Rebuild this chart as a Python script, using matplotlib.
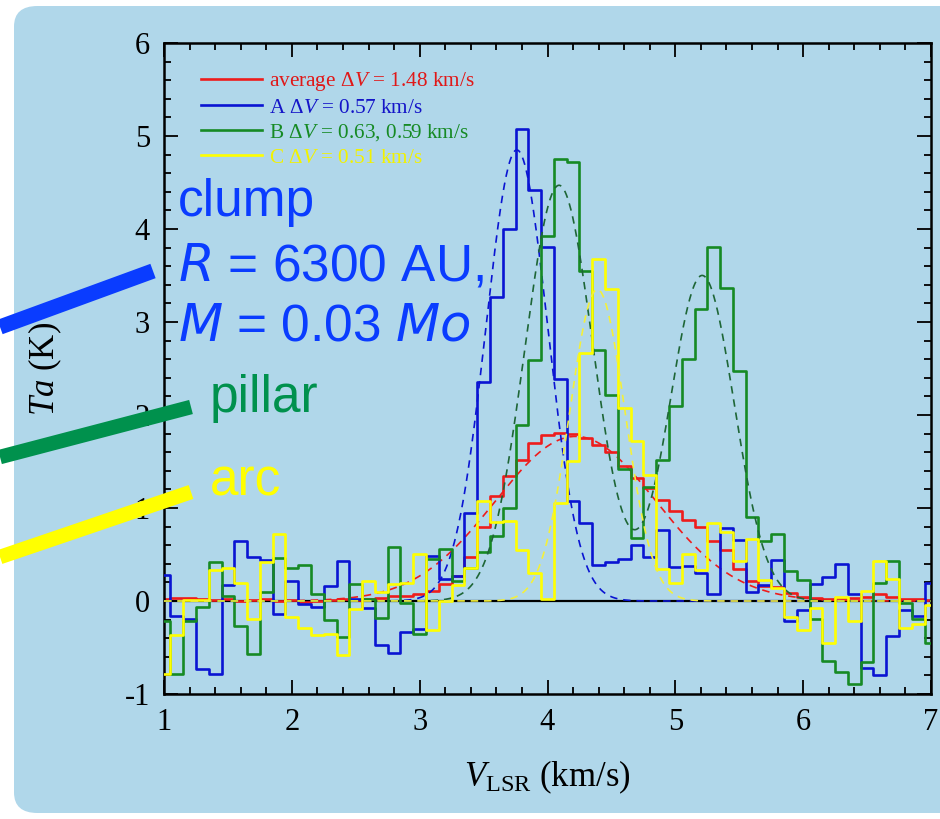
import numpy as np
import matplotlib
matplotlib.use("Agg")
import matplotlib.pyplot as plt
from matplotlib.lines import Line2D
from matplotlib.patches import FancyBboxPatch

plt.rcParams['font.family'] = ['Liberation Serif', 'DejaVu Serif']
plt.rcParams['mathtext.fontset'] = 'custom'
plt.rcParams['mathtext.rm'] = 'Liberation Serif'
plt.rcParams['mathtext.it'] = 'Liberation Serif:italic'
plt.rcParams['mathtext.bf'] = 'Liberation Serif:bold'

# ---------------- data ----------------
# channel centres (km/s), 0.1 km/s channels from 1.0 to 7.0
v_chan = np.linspace(1.0, 7.0, 61)

t_average = [0.02, 0.03, 0.03, 0.02, 0.01, 0.02, 0.00, 0.01, 0.02, 0.00,
             0.01, -0.01, 0.00, 0.01, 0.02, 0.01, 0.02, 0.03, 0.05, 0.05,
             0.08, 0.11, 0.18, 0.27, 0.47, 0.80, 1.13, 1.34, 1.52, 1.70,
             1.78, 1.81, 1.80, 1.75, 1.68, 1.60, 1.45, 1.32, 1.21, 1.09,
             0.97, 0.87, 0.80, 0.65, 0.55, 0.34, 0.21, 0.16, 0.15, 0.09,
             0.04, 0.03, 0.02, 0.03, 0.03, 0.04, 0.07, 0.04, 0.02, 0.02, 0.01]

t_A = [0.28, -0.16, -0.19, -0.73, -0.78, 0.17, 0.645, 0.47, 0.44, -0.14,
       0.22, -0.03, -0.06, 0.16, 0.43, 0.02, -0.08, -0.47, -0.56, -0.33,
       -0.30, 0.48, 0.24, 0.27, 0.95, 2.35, 3.27, 4.00, 5.07, 4.42,
       3.81, 2.39, 1.07, 0.84, 0.39, 0.42, 0.45, 0.60, 0.47, 0.76,
       0.37, 0.38, 0.30, 0.08, 0.78, 0.66, 0.10, 0.17, 0.44, -0.22,
       -0.10, 0.18, 0.26, 0.40, 0.07, -0.72, -0.80, -0.38, -0.10, -0.16, 0.19]

t_B = [-0.22, -0.78, -0.21, -0.06, 0.42, 0.05, -0.27, -0.57, 0.10, 0.46,
       0.35, 0.39, 0.07, -0.20, -0.39, 0.18, 0.02, -0.18, 0.58, -0.02,
       -0.35, 0.45, 0.56, 0.21, 0.35, 0.53, 0.70, 1.00, 1.89, 2.59,
       3.93, 4.75, 4.72, 3.55, 2.70, 2.21, 1.42, 0.68, 1.23, 1.52,
       2.10, 2.60, 3.14, 3.81, 3.37, 2.47, 0.90, 0.65, 0.72, 0.32,
       0.23, -0.19, -0.64, -0.76, -0.89, -0.66, 0.19, 0.43, -0.02, -0.19, -0.45]

t_C = [-0.79, -0.365, 0.01, 0.01, 0.33, 0.36, 0.19, -0.19, 0.42, 0.72,
       -0.17, -0.29, -0.365, -0.36, -0.58, -0.09, 0.21, 0.10, 0.18, 0.19,
       0.51, -0.31, 0.00, 0.17, 0.36, 1.07, 0.85, 0.86, 0.55, 0.30,
       0.02, 1.05, 1.51, 2.67, 3.68, 3.35, 2.07, 1.72, 1.35, 0.34,
       0.19, 0.51, 0.33, 0.84, 0.74, 0.43, 0.67, 0.23, 0.14, -0.17,
       -0.31, -0.07, -0.45, 0.04, -0.22, 0.11, 0.43, 0.24, -0.29, -0.25, -0.04]

# Gaussian fit parameters: amplitude (K), centre (km/s), FWHM (km/s)
fit_average = [(1.77, 4.22, 1.48)]
fit_A = [(4.85, 3.76, 0.57)]
fit_B = [(4.47, 4.09, 0.63), (3.50, 5.21, 0.59)]
fit_C = [(3.35, 4.39, 0.51)]

labels = [r'average $\Delta V$ = 1.48 km/s',
          r'A $\Delta V$ = 0.57 km/s',
          r'B $\Delta V$ = 0.63, 0.59 km/s',
          r'C $\Delta V$ = 0.51 km/s']

x_ticks = [1, 2, 3, 4, 5, 6, 7]
y_ticks = [-1, 0, 1, 2, 3, 4, 5, 6]

# ---------------- style ----------------
BG = '#b0d7ea'
hist_cols = ['#ee1c1c', '#0a14d2', '#168a24', '#ffff00']
fit_cols = ['#ee1c1c', '#0a14d2', '#1e6636', '#f4f03a']
text_cols = ['#e01818', '#1414c8', '#168a24', '#f2f200']

W, H = 940, 819
fig = plt.figure(figsize=(W / 100, H / 100), dpi=100)
fig.patch.set_facecolor('white')

# rounded light-blue panel
panel = FancyBboxPatch((14 / W, 6 / H), 980 / W, (813 - 6) / H,
                       boxstyle='round,pad=0,rounding_size=0.025',
                       transform=fig.transFigure, facecolor=BG,
                       edgecolor='none', zorder=-5)
fig.patches.append(panel)

ax = fig.add_axes([164 / W, (H - 694) / H, (931 - 164) / W, (694 - 43) / H])
ax.set_facecolor('none')

vfine = np.linspace(1.0, 7.0, 1200)


def gauss_sum(params, x):
    y = np.zeros_like(x)
    for a, c, fw in params:
        s = fw / 2.3548
        y += a * np.exp(-0.5 * ((x - c) / s) ** 2)
    return y


ax.axhline(0, color='black', lw=1.6, zorder=1)

series = [t_average, t_A, t_B, t_C]
fits = [fit_average, fit_A, fit_B, fit_C]
handles = []
for i, (ser, fp) in enumerate(zip(series, fits)):
    h, = ax.step(v_chan, ser, where='mid', color=hist_cols[i], lw=1.9,
                 zorder=2 + i)
    ax.plot(vfine, gauss_sum(fp, vfine), color=fit_cols[i], lw=1.2,
            ls=(0, (4.5, 3.5)), zorder=2 + i)
    handles.append(h)

ax.set_xlim(1, 7)
ax.set_ylim(-1, 6)
ax.set_xticks(x_ticks)
ax.set_yticks(y_ticks)
ax.set_xticklabels([str(t) for t in x_ticks])
ax.set_yticklabels([str(t) for t in y_ticks])
ax.set_xticks(np.arange(1, 7.01, 0.2), minor=True)
ax.set_yticks(np.arange(-1, 6.01, 0.2), minor=True)
ax.tick_params(which='both', direction='in', top=True, right=True,
               labelsize=22, width=1.3, color='black')
ax.tick_params(which='major', length=10, pad=10)
ax.tick_params(which='minor', length=5)
for sp in ax.spines.values():
    sp.set_linewidth(1.8)

ax.set_xlabel(r'$V_{\rm LSR}$ (km/s)', fontsize=25, labelpad=16)
ax.set_ylabel(r'$Ta$ (K)', fontsize=25, labelpad=44)

leg = ax.legend(handles, labels, loc='upper left',
                bbox_to_anchor=(201 / W, 1 - 70 / H),
                bbox_transform=fig.transFigure, frameon=False,
                fontsize=15.3, handlelength=2.85, handletextpad=0.33,
                labelspacing=0.22, borderpad=0, borderaxespad=0)
for txt, c in zip(leg.get_texts(), text_cols):
    txt.set_color(c)

# annotation texts
sans = ['Liberation Sans', 'DejaVu Sans']
blue_txt = '#0a3cff'
ax.text(1.11, 4.14, 'clump', color=blue_txt, fontsize=37, family=sans)
ax.text(1.11, 3.45, r'$R$ = 6300 AU,', color=blue_txt, fontsize=37,
        family=sans, math_fontfamily='dejavusans')
ax.text(1.11, 2.80, r'$M$ = 0.03 $Mo$', color=blue_txt, fontsize=37,
        family=sans, math_fontfamily='dejavusans')
ax.text(1.36, 2.03, 'pillar', color='#00914d', fontsize=37, family=sans)
ax.text(1.36, 1.13, 'arc', color='#ffff00', fontsize=37, family=sans)

# thick pointer strokes
for (x0, y0, x1, y1, c, w) in [(0, 327, 153, 271, '#0a3cff', 11),
                               (0, 457, 191, 407, '#00914d', 10.5),
                               (0, 557, 191, 492, '#ffff00', 10.5)]:
    fig.lines.append(Line2D([x0 / W, x1 / W], [1 - y0 / H, 1 - y1 / H],
                            transform=fig.transFigure, color=c, lw=w,
                            solid_capstyle='butt', zorder=10))

fig.savefig('out.png', dpi=100, facecolor='white')
